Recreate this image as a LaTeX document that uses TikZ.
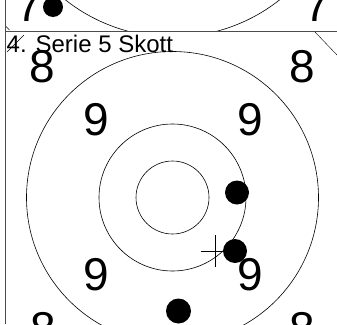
\documentclass[tikz,border=0pt]{standalone}
\usepackage{fontspec}
\setmainfont{Liberation Sans}
\begin{document}
\begin{tikzpicture}[x=1pt, y=-1pt,
    ring/.style={draw=black, line width=0.6pt},
    shot/.style={circle, fill=black, inner sep=0pt, minimum size=24pt},
    score/.style={font=\fontsize{46}{46}\selectfont, inner sep=0pt},
    frame/.style={draw=black!70, line width=1pt}
]
    \useasboundingbox (0,0) rectangle (337,324);
    \clip (0,0) rectangle (337,324);

    % Previous series
    \begin{scope}
        \clip (5,-20) rectangle (337,31.5);
        \draw[ring] (172.5,-136) circle[radius=173pt];
        \node[score, anchor=base] (sevenL) at (29,21) {7};
        \node[score, anchor=base] (sevenR) at (317,21) {7};
        \node[shot, minimum size=20pt] (prev) at (53,7) {};
        \draw[thin] (6,26.5) -- (9.5,30);
    \end{scope}

    % Frame
    \draw[frame] (5,0) -- (5,324);
    \draw[frame] (5,31.5) -- (337,31.5);

    % Rings
    \draw[ring] (172.5,197.5) circle[radius=36.5pt];
    \draw[ring] (172.5,197.5) circle[radius=73.5pt];
    \draw[ring] (172.5,197.5) circle[radius=146pt];

    % Corner lines
    \draw[thin] (7,52) -- (24,35);
    \draw[thin] (315,32) -- (337,55);

    % Scores
    \node[score] (eightTL) at (42,67) {8};
    \node[score] (eightTR) at (302,67) {8};
    \node[score] (nineTL) at (96,120) {9};
    \node[score] (nineTR) at (250,120) {9};
    \node[score] (nineBL) at (96,275) {9};
    \node[score] (nineBR) at (250,275) {9};
    \node[score] (eightBL) at (43,328.5) {8};
    \node[score] (eightBR) at (302,328.5) {8};

    % Title
    \node[anchor=base west, inner sep=0pt, font=\fontsize{24}{24}\selectfont] (title) at (6.5,52.5) {4. Serie 5 Skott};

    % Aim mark
    \coordinate (aim) at (215.5,251);
    \draw[line width=0.8pt] (aim) ++(-15,0) -- ++(30,0);
    \draw[line width=0.8pt] (aim) ++(0,-16) -- ++(0,32);

    % Shots
    \node[shot] (shotA) at (237,192.5) {};
    \node[shot] (shotB) at (235,251) {};
    \node[shot, minimum size=25pt] (shotC) at (178.5,311) {};

\end{tikzpicture}
\end{document}
